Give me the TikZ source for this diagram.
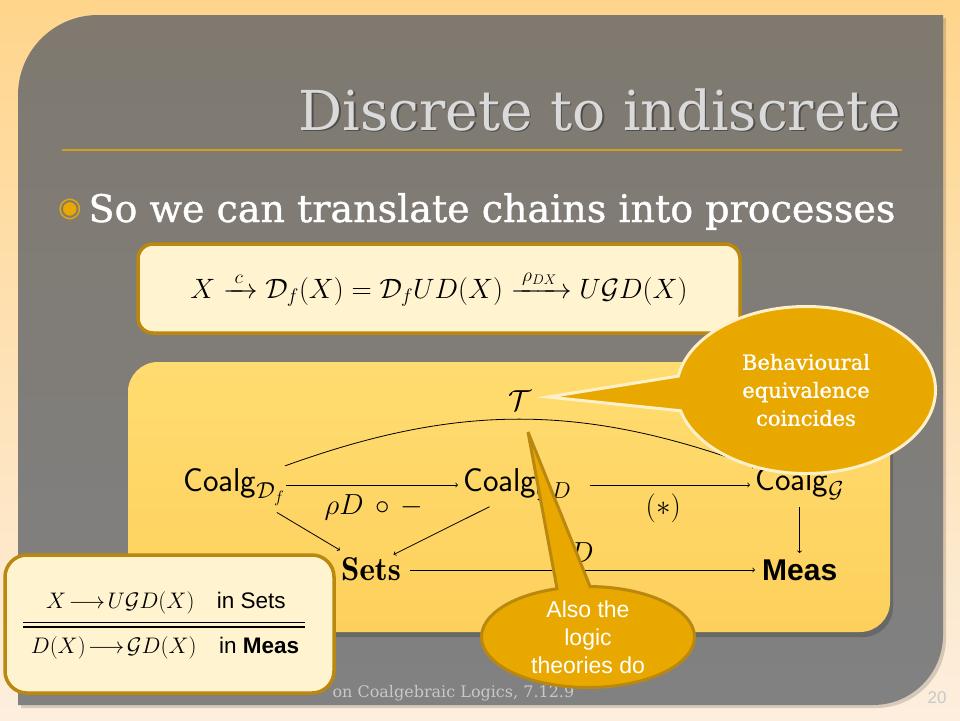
\RequirePackage{fix-cm}
\documentclass[tikz,border=0pt]{standalone}
\usepackage{amsmath}
\usepackage{fontspec}
\usetikzlibrary{shapes.callouts,positioning}

\newfontfamily\slabfont{DejaVu Serif}
\newfontfamily\slabheavy[FakeBold=1]{DejaVu Serif}
\newfontfamily\arialfont{Liberation Sans}
\newfontfamily\symbfont{DejaVu Sans}
\newcommand{\fsz}[2]{\fontsize{#1}{#2}\selectfont}

\definecolor{bgtop}{RGB}{255,213,140}
\definecolor{bgbot}{RGB}{253,238,222}
\definecolor{slidetop}{RGB}{127,121,111}
\definecolor{slidebot}{RGB}{129,129,130}
\definecolor{darkgold}{RGB}{186,136,14}
\definecolor{cream}{RGB}{255,243,208}
\definecolor{boxtop}{RGB}{255,220,112}
\definecolor{boxbot}{RGB}{253,208,92}
\definecolor{callgold}{RGB}{232,168,0}
\definecolor{bubblerim}{RGB}{255,240,200}
\definecolor{titlegrey}{RGB}{218,218,218}
\definecolor{ruleline}{RGB}{210,160,30}
\definecolor{footgrey}{RGB}{200,200,200}

\tikzstyle{textbox}=[draw=darkgold,line width=3.5pt,fill=cream,rounded corners=15pt]
\tikzstyle{obj}=[inner sep=0pt,anchor=base west,font=\fsz{33}{38}]
\tikzstyle{lbl}=[font=\fsz{29}{34}]
\tikzstyle{arr}=[->,line width=.8pt]
\tikzstyle{bubble}=[ellipse callout,fill=callgold,line width=3pt,inner sep=0pt]
\tikzstyle{calltext}=[text=white,align=center]

\begin{document}
\begin{tikzpicture}[x=1pt, y=-1pt, >=to]
  \useasboundingbox (0,0) rectangle (960,720);
  \shade[top color=bgtop, bottom color=bgbot] (0,0) rectangle (960,720);

  % slide panel
  \fill[black, opacity=.15] (21,708) -- (21,98) arc[start angle=180, end angle=270, radius=80]
    -- (946,18) -- (946,638) arc[start angle=0, end angle=90, radius=70] -- cycle;
  \shade[top color=slidetop, bottom color=slidebot] (18,705) -- (18,95)
    arc[start angle=180, end angle=270, radius=80] -- (943,15) -- (943,635)
    arc[start angle=0, end angle=90, radius=70] -- cycle;

  \node[anchor=base west, text=footgrey, font=\slabfont\fsz{16}{18}] (foot) at (329,697)
    {on Coalgebraic Logics, 7.12.9};
  \node[text=footgrey, font=\arialfont\fsz{17}{20}] (pageno) at (937,698) {20};

  % title
  \node[anchor=base east, text=black!80, opacity=.6, font=\slabfont\fsz{55}{60}] (titleshade)
    at (906.5,131.5) {Discrete to indiscrete};
  \node[anchor=base east, text=titlegrey, font=\slabfont\fsz{55}{60}] (title)
    at (905,130) {Discrete to indiscrete};
  \draw[ruleline, line width=1.5pt] (62,150) -- (902,150);

  \node[text=callgold, font=\symbfont\fsz{27}{30}] (bullet) at (70,209) {◉};
  \node[anchor=base west, text=white, font=\slabheavy\fsz{38}{44}] (point) at (85,222)
    {So we can translate chains into processes};

  \node[textbox, minimum width=602pt, minimum height=89pt, font=\fsz{28}{34}] (chain)
    at (439,288.5) {$X \xrightarrow{\;c\;} \mathcal{D}_f(X) = \mathcal{D}_f U D(X)
    \xrightarrow{\;\rho_{DX}\;} U\mathcal{G}D(X)$};

  % diagram
  \fill[black, opacity=.18, rounded corners=30pt] (131,367) rectangle (893,637);
  \shade[top color=boxtop, bottom color=boxbot, rounded corners=30pt] (128,362) rectangle (890,632);

  \node[obj] (cdf) at (183,491) {$\mathsf{Coalg}_{\mathcal{D}_f}$};
  \node[obj] (cgd) at (463,491) {$\mathsf{Coalg}_{\mathcal{G}D}$};
  \node[obj] (cg) at (755,490) {$\mathsf{Coalg}_{\mathcal{G}}$};
  \node[obj] (sets) at (341,580) {$\mathbf{Sets}$};
  \node[obj, font=\arialfont\bfseries\fsz{30}{34}] (meas) at (762,580) {Meas};

  \draw[arr, shorten <=1pt, shorten >=5pt] ([yshift=6pt]cdf.base east) --
    node[lbl, below=6pt] (rholbl) {$\rho D\,\circ\,-$} ([yshift=6pt]cgd.base west);
  \draw[arr, shorten <=18pt, shorten >=5pt] ([yshift=6pt]cgd.base east) --
    node[lbl, below=5pt] (starlbl) {$(*)$} ([yshift=5pt]cg.base west);
  \draw[arr] ([yshift=2pt]cdf.north east) to[bend left=20]
    node[lbl, above=5pt] (tlbl) {$\mathcal{T}$} (cg.north west);
  \draw[arr, shorten <=13pt, shorten >=13pt] (cdf) -- (sets);
  \draw[arr, shorten <=12pt, shorten >=5pt] ([xshift=-17pt]cgd.south) -- ([xshift=-12pt]sets.north east);
  \draw[arr, shorten <=9pt, shorten >=7pt] ([yshift=10pt]sets.base east) --
    node[lbl, above=4pt] (dlbl) {$D$} ([yshift=10pt]meas.base west);
  \draw[arr, shorten <=7pt, shorten >=6pt] (cg.south) -- (cg.south |- meas.north);

  % callouts
  \coordinate (tpeak) at (548,397);
  \node[bubble, draw=bubblerim, minimum width=259pt, minimum height=167pt,
    callout absolute pointer={(tpeak)}, callout pointer arc=24] (behav) at (806,390) {};
  \node[calltext, font=\slabheavy\fsz{21}{28}] (behavtext) at (behav.center)
    {Behavioural\\equivalence\\coincides};

  \coordinate (lpeak) at (528,432);
  \node[bubble, draw=darkgold, minimum width=213pt, minimum height=101pt,
    callout absolute pointer={(lpeak)}, callout pointer arc=18] (logic) at (588,637) {};
  \node[calltext, font=\arialfont\fsz{23}{28}] (logictext) at (logic.center)
    {Also the\\logic\\theories do};

  % rule box
  \node[textbox, rounded corners=22pt, minimum width=329pt, minimum height=138pt] (rulebox)
    at (169.5,624) {};
  \node[anchor=base, font=\fsz{22.5}{26}] (upper) at (166,608)
    {$X\!\longrightarrow\! U\mathcal{G}D(X)$\quad{\arialfont in Sets}};
  \node[anchor=base, font=\fsz{22.5}{26}] (lower) at (165,653)
    {$D(X)\!\longrightarrow\!\mathcal{G}D(X)$\quad{\arialfont in \textbf{Meas}}};
  \coordinate (ruleL) at (23,624.5);
  \coordinate (ruleR) at (305,624.5);
  \draw[line width=1.4pt, double=cream, double distance=3.2pt] (ruleL) -- (ruleR);
\end{tikzpicture}
\end{document}
